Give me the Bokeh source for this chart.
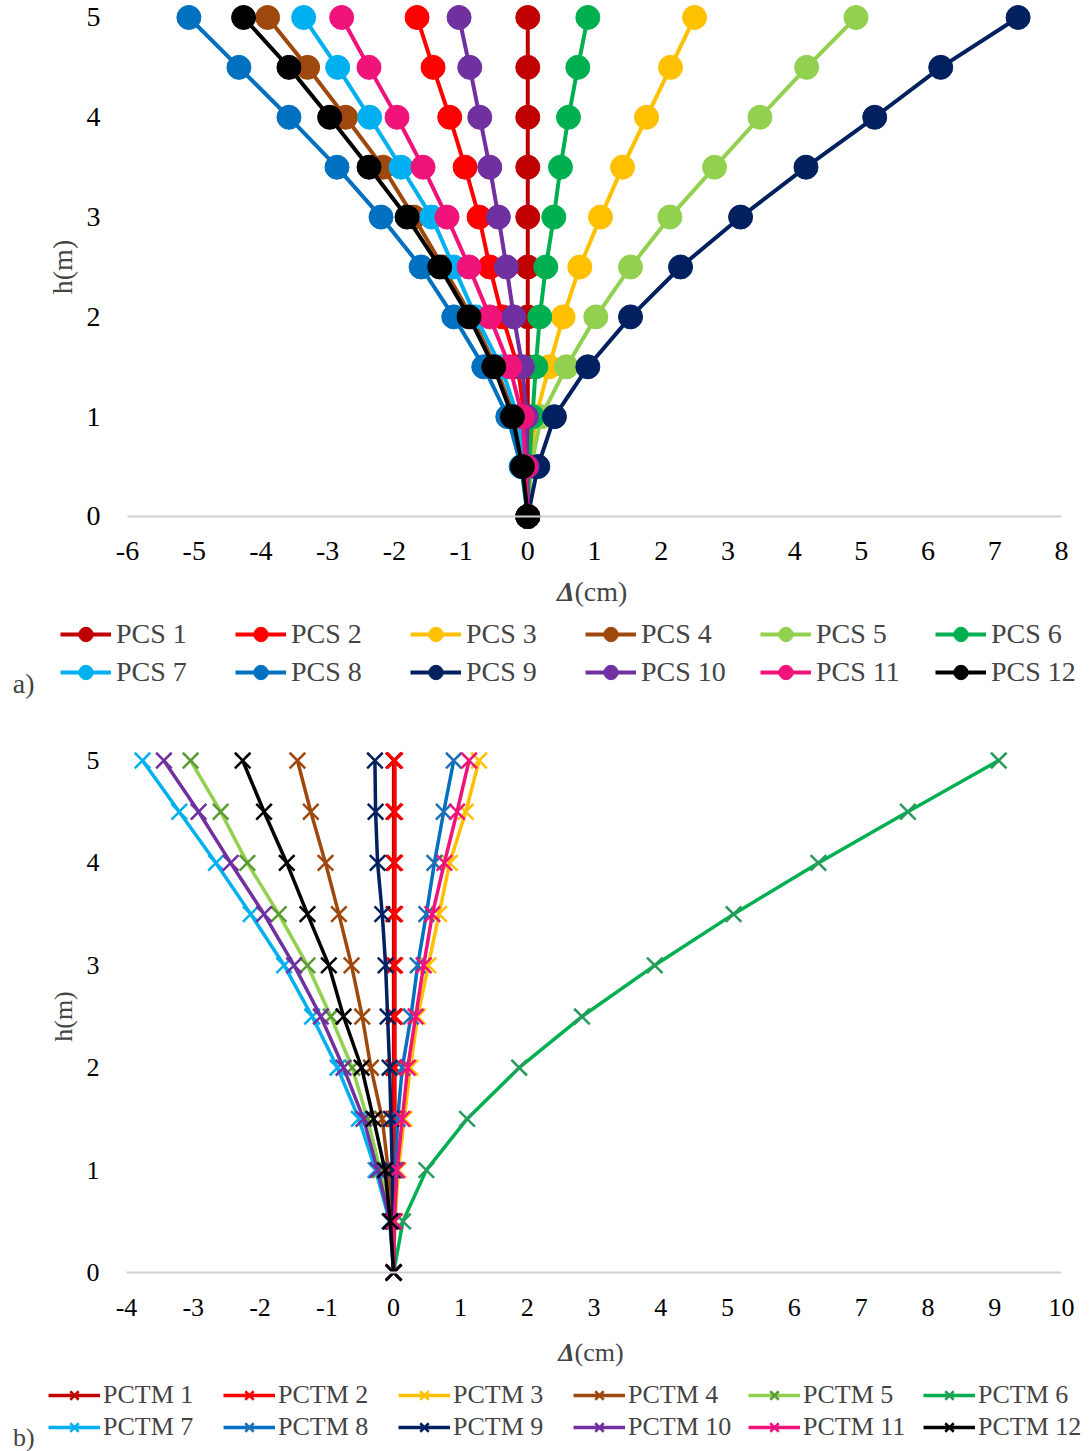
import bokeh.layouts
import bokeh.models
import bokeh.plotting
from bokeh.embed import file_html
from bokeh.resources import INLINE

# storey heights (m), shared by both panels
heights = [0, 0.5, 1, 1.5, 2, 2.5, 3, 3.5, 4, 4.5, 5]
h_ticks = [0, 1, 2, 3, 4, 5]

# panel a) drifts in cm
pcs_names = ["PCS 1", "PCS 2", "PCS 3", "PCS 4", "PCS 5", "PCS 6",
             "PCS 7", "PCS 8", "PCS 9", "PCS 10", "PCS 11", "PCS 12"]
pcs_1 = [0, 0, 0, 0, 0, 0, 0, 0, 0, 0, 0]
pcs_2 = [0, -0.02, -0.05, -0.15, -0.38, -0.57, -0.73, -0.94, -1.17, -1.42, -1.66]
pcs_3 = [0, 0.03, 0.12, 0.32, 0.53, 0.78, 1.09, 1.42, 1.78, 2.14, 2.50]
pcs_4 = [0, -0.05, -0.20, -0.48, -0.84, -1.27, -1.71, -2.17, -2.73, -3.30, -3.90]
pcs_5 = [0, 0.05, 0.20, 0.58, 1.02, 1.54, 2.13, 2.80, 3.48, 4.18, 4.92]
pcs_6 = [0, 0.02, 0.07, 0.12, 0.18, 0.27, 0.39, 0.49, 0.61, 0.75, 0.90]
pcs_7 = [0, -0.04, -0.15, -0.40, -0.78, -1.11, -1.44, -1.90, -2.37, -2.85, -3.36]
pcs_8 = [0, -0.10, -0.30, -0.66, -1.11, -1.60, -2.20, -2.86, -3.58, -4.33, -5.08]
pcs_9 = [0, 0.15, 0.40, 0.90, 1.54, 2.29, 3.19, 4.17, 5.20, 6.19, 7.35]
pcs_10 = [0, -0.01, -0.02, -0.08, -0.21, -0.32, -0.44, -0.57, -0.72, -0.87, -1.03]
pcs_11 = [0, -0.03, -0.08, -0.27, -0.57, -0.88, -1.21, -1.57, -1.96, -2.38, -2.79]
pcs_12 = [0, -0.08, -0.23, -0.51, -0.88, -1.32, -1.81, -2.38, -2.97, -3.58, -4.26]
pcs_values = [pcs_1, pcs_2, pcs_3, pcs_4, pcs_5, pcs_6,
              pcs_7, pcs_8, pcs_9, pcs_10, pcs_11, pcs_12]
pcs_ticks = [-6, -5, -4, -3, -2, -1, 0, 1, 2, 3, 4, 5, 6, 7, 8]

# panel b) drifts in cm
pctm_names = ["PCTM 1", "PCTM 2", "PCTM 3", "PCTM 4", "PCTM 5", "PCTM 6",
              "PCTM 7", "PCTM 8", "PCTM 9", "PCTM 10", "PCTM 11", "PCTM 12"]
pctm_1 = [0, 0, 0, 0, 0, 0, 0, 0, 0, 0, 0]
pctm_2 = [0, 0.01, 0.01, 0.02, 0.02, 0.02, 0.02, 0.02, 0.02, 0.02, 0.02]
pctm_3 = [0, 0.02, 0.07, 0.16, 0.25, 0.36, 0.52, 0.68, 0.84, 1.08, 1.28]
pctm_4 = [0, -0.02, -0.08, -0.17, -0.34, -0.47, -0.63, -0.82, -1.02, -1.24, -1.44]
pctm_5 = [0, -0.04, -0.20, -0.39, -0.62, -0.94, -1.29, -1.72, -2.19, -2.59, -3.04]
pctm_6 = [0, 0.14, 0.49, 1.10, 1.88, 2.82, 3.91, 5.09, 6.36, 7.70, 9.06]
pctm_7 = [0, -0.06, -0.27, -0.52, -0.84, -1.22, -1.64, -2.14, -2.66, -3.21, -3.76]
pctm_8 = [0, 0.01, 0.03, 0.06, 0.13, 0.26, 0.36, 0.49, 0.61, 0.75, 0.90]
pctm_9 = [0, -0.01, -0.02, -0.04, -0.06, -0.09, -0.12, -0.17, -0.24, -0.27, -0.28]
pctm_10 = [0, -0.05, -0.24, -0.45, -0.75, -1.09, -1.49, -1.94, -2.44, -2.92, -3.44]
pctm_11 = [0, 0.01, 0.05, 0.13, 0.21, 0.33, 0.45, 0.58, 0.76, 0.95, 1.13]
pctm_12 = [0, -0.05, -0.13, -0.30, -0.48, -0.75, -0.97, -1.29, -1.60, -1.94, -2.26]
pctm_values = [pctm_1, pctm_2, pctm_3, pctm_4, pctm_5, pctm_6,
               pctm_7, pctm_8, pctm_9, pctm_10, pctm_11, pctm_12]
pctm_ticks = [-4, -3, -2, -1, 0, 1, 2, 3, 4, 5, 6, 7, 8, 9, 10]

series_colors = ["#C00000", "#FF0000", "#FFC000", "#9E480E", "#92D050", "#00B050",
                 "#00B0F0", "#0070C0", "#002060", "#7030A0", "#F0137A", "#000000"]
pctm_marker_colors = ["#C00000", "#FF0000", "#FFC000", "#9E480E", "#5B9B36", "#2A9A5C",
                      "#00B0F0", "#1F6FB5", "#002060", "#7030A0", "#F0137A", "#000000"]

FONT = "Liberation Serif"


def drift_panel(names, values, colors, marker_colors, marker, marker_size, line_width,
                x_ticks, x_range, y_range, height, font_px,
                legend_loc, glyph_w, glyph_h, label_standoff, label_w,
                delta_xy, tag, tag_xy):
    # the frame fills the whole figure; axes sit at fixed data positions
    p = bokeh.plotting.figure(
        width=1091,
        height=height,
        x_range=x_range,
        y_range=y_range,
        x_axis_location=None,
        y_axis_location=None,
        min_border=0,
        toolbar_location=None,
        output_backend="svg",
        outline_line_color=None,
    )
    p.grid.visible = False
    fs = "%dpx" % font_px

    xaxis = bokeh.models.LinearAxis(
        fixed_location=0,
        bounds=(x_ticks[0], x_ticks[-1]),
        ticker=bokeh.models.FixedTicker(ticks=x_ticks),
        major_label_overrides={t: str(t) for t in x_ticks},
        axis_line_color="#D0D0D0",
        axis_line_width=2,
        major_label_standoff=20,
    )
    p.add_layout(xaxis, "below")

    yaxis = bokeh.models.LinearAxis(
        fixed_location=x_ticks[0],
        bounds=(0, 5),
        ticker=bokeh.models.FixedTicker(ticks=h_ticks),
        axis_line_color=None,
        major_label_standoff=21,
        axis_label="h(m)",
        axis_label_text_font=FONT,
        axis_label_text_font_size=fs,
        axis_label_text_font_style="normal",
        axis_label_standoff=6,
    )
    p.add_layout(yaxis, "left")

    for ax in (xaxis, yaxis):
        ax.major_tick_line_color = None
        ax.minor_tick_line_color = None
        ax.major_label_text_font = FONT
        ax.major_label_text_font_size = fs
        ax.major_label_text_color = "black"

    items = []
    for name, xs, c, mc in zip(names, values, colors, marker_colors):
        src = bokeh.models.ColumnDataSource(data=dict(x=xs, h=heights))
        r_line = p.line("x", "h", source=src, line_color=c, line_width=line_width)
        if marker == "circle":
            r_mark = p.scatter("x", "h", source=src, marker="circle", size=marker_size,
                               fill_color=mc, line_color=mc)
        else:
            r_mark = p.scatter("x", "h", source=src, marker="x", size=marker_size,
                               line_color=mc, line_width=2.5)
        items.append(bokeh.models.LegendItem(label=name, renderers=[r_line, r_mark]))

    dx, dy = delta_xy
    p.add_layout(bokeh.models.Label(x=dx, y=dy, text="Δ", text_font=FONT, text_font_size=fs,
                                    text_font_style="bold italic", text_align="right",
                                    text_baseline="middle"))
    p.add_layout(bokeh.models.Label(x=dx, y=dy, text="(cm)", text_font=FONT, text_font_size=fs,
                                    text_align="left", text_baseline="middle"))
    p.add_layout(bokeh.models.Label(x=tag_xy[0], y=tag_xy[1], text=tag, text_font=FONT,
                                    text_font_size=fs, text_align="left",
                                    text_baseline="middle"))

    legend = bokeh.models.Legend(
        items=items,
        orientation="horizontal",
        ncols=6,
        location=legend_loc,
        glyph_width=glyph_w,
        glyph_height=glyph_h,
        label_standoff=label_standoff,
        label_width=label_w,
        label_height=glyph_h,
        spacing=2,
        padding=0,
        margin=0,
        border_line_color=None,
        background_fill_alpha=0,
        label_text_font=FONT,
        label_text_font_size=fs,
        label_text_baseline="middle",
    )
    p.add_layout(legend, "center")
    return p


top = drift_panel(pcs_names, pcs_values, series_colors, series_colors, "circle", 24, 4,
                  pcs_ticks, (-7.904, 8.45), (-2.044, 5.170), 720, 28,
                  (60, 30), 51, 36, 5, 117,
                  (0.70, -0.752), "a)", (-7.72, -1.674))

bottom = drift_panel(pctm_names, pctm_values, series_colors, pctm_marker_colors, "x", 22, 3.5,
                     pctm_ticks, (-5.886, 10.449), (-1.748, 5.391), 731, 26,
                     (48, 9), 52, 30, 3, 118,
                     (2.71, -0.78), "b)", (-5.70, -1.61))

page = bokeh.layouts.column(top, bottom, spacing=0)

with open("out.html", "w") as f:
    f.write(file_html(page, INLINE))
